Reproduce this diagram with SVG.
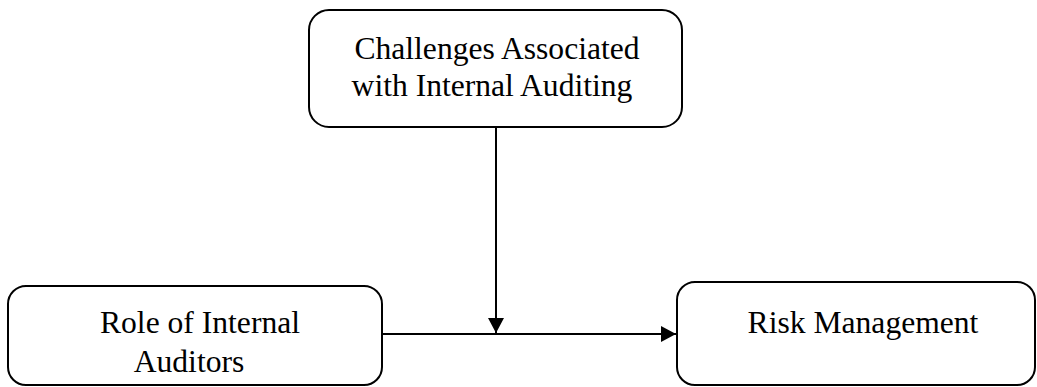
<svg xmlns="http://www.w3.org/2000/svg" width="1037" height="387" viewBox="0 0 1037 387">
<style>
.box{fill:#fff;stroke:#000;stroke-width:2}
.t{font-family:"Liberation Serif","Times New Roman",serif;font-size:31.6px;fill:#000;text-anchor:middle}
.c{stroke:#000;stroke-width:2;fill:none}
</style>
<defs>
<marker id="ah" markerUnits="userSpaceOnUse" markerWidth="16" markerHeight="16" viewBox="0 0 16 16" refX="15" refY="8" orient="auto">
<path d="M0,0 L15,8 L0,16 Z" fill="#000"/>
</marker>
</defs>
<rect width="1037" height="387" fill="#fff"/>
<g id="challenges">
<rect class="box" x="309" y="10" width="373" height="117" rx="20"/>
<text class="t" x="497" y="59">Challenges Associated</text>
<text class="t" x="492" y="96">with Internal Auditing</text>
</g>
<g id="role">
<rect class="box" x="8" y="286" width="374" height="99" rx="18"/>
<text class="t" x="200" y="333">Role of Internal</text>
<text class="t" x="189" y="372">Auditors</text>
</g>
<g id="risk">
<rect class="box" x="677" y="282" width="358" height="103" rx="18"/>
<text class="t" x="863" y="333">Risk Management</text>
</g>
<g id="connectors">
<line class="c" x1="382" y1="334" x2="676" y2="334" marker-end="url(#ah)"/>
<line class="c" x1="496" y1="127" x2="496" y2="333" marker-end="url(#ah)"/>
</g>
</svg>
